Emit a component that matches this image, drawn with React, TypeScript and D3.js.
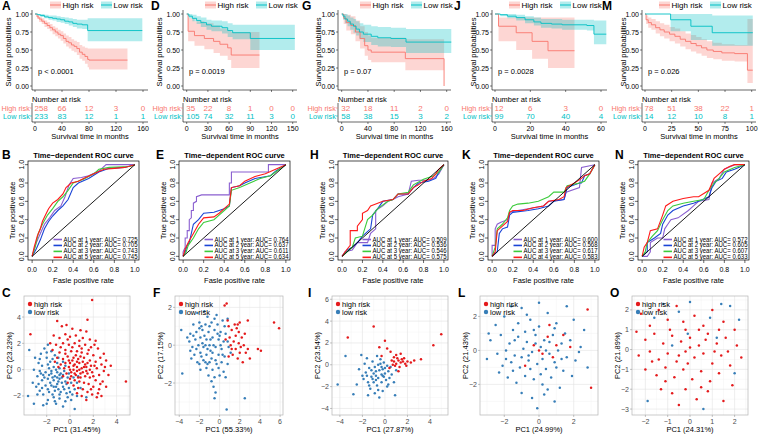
import React from 'react';
import * as d3 from 'd3';

const FONT = "'Liberation Sans', Arial, Helvetica, sans-serif";
const RED = '#F8766D';
const TEAL = '#00BFC4';
const ROC_COLORS = ['#8A5FD0', '#1A44D6', '#3CCB3C', '#FF1A1A'];
const PCA_RED = '#E41A1C';
const PCA_BLUE = '#377EB8';

// ---- Kaplan-Meier curves: [time, surv, lower, upper]
const aHigh = [[0,1,1,1],[3,0.96,0.93,0.99],[6,0.93,0.89,0.96],[10,0.9,0.86,0.94],[14,0.87,0.82,0.91],[18,0.84,0.79,0.89],[22,0.81,0.76,0.86],[26,0.78,0.72,0.83],[30,0.75,0.69,0.81],[34,0.72,0.66,0.78],[38,0.7,0.63,0.76],[42,0.66,0.59,0.73],[46,0.62,0.55,0.7],[50,0.6,0.52,0.68],[54,0.57,0.49,0.65],[58,0.55,0.47,0.63],[62,0.52,0.43,0.61],[66,0.47,0.38,0.57],[70,0.44,0.35,0.55],[74,0.41,0.31,0.53],[78,0.37,0.26,0.52],[80,0.36,0.23,0.52],[137,0.36,0.23,0.52]];
const aLow = [[0,1,1,1],[4,0.99,0.98,1],[8,0.98,0.96,1],[14,0.96,0.94,0.99],[20,0.95,0.92,0.98],[26,0.94,0.91,0.98],[32,0.93,0.89,0.97],[38,0.92,0.88,0.96],[44,0.9,0.86,0.95],[50,0.89,0.84,0.94],[56,0.87,0.82,0.93],[62,0.86,0.8,0.92],[70,0.85,0.79,0.92],[78,0.77,0.62,0.94],[159,0.77,0.62,0.94]];
const dHigh = [[0,1,1,1],[2,0.76,0.62,0.94],[11,0.7,0.56,0.9],[25,0.66,0.51,0.87],[38,0.62,0.46,0.84],[47,0.58,0.42,0.8],[58,0.53,0.36,0.77],[63,0.43,0.25,0.75],[103,0.43,0.25,0.75]];
const dLow = [[0,1,1,1],[3,0.97,0.94,1],[8,0.94,0.9,0.99],[14,0.91,0.86,0.97],[20,0.88,0.82,0.95],[28,0.85,0.78,0.92],[35,0.83,0.76,0.91],[50,0.81,0.73,0.9],[58,0.77,0.68,0.87],[65,0.74,0.65,0.85],[90,0.66,0.5,0.85],[153,0.66,0.5,0.85]];
const gHigh = [[0,1,1,1],[3,0.94,0.86,1],[7,0.88,0.77,0.99],[14,0.84,0.72,0.97],[21,0.75,0.62,0.91],[28,0.66,0.52,0.83],[35,0.56,0.42,0.75],[40,0.5,0.36,0.7],[45,0.47,0.33,0.67],[97,0.38,0.22,0.65],[156,0,0,0]];
const gLow = [[0,1,1,1],[2,0.97,0.92,1],[5,0.93,0.87,1],[9,0.9,0.83,0.98],[13,0.86,0.78,0.95],[18,0.83,0.74,0.93],[22,0.79,0.7,0.9],[27,0.75,0.65,0.87],[33,0.72,0.61,0.85],[45,0.69,0.57,0.83],[55,0.67,0.55,0.82],[75,0.66,0.54,0.81],[98,0.61,0.46,0.79],[167,0.61,0.46,0.79]];
const jHigh = [[0,1,1,1],[2,0.83,0.62,0.95],[12,0.74,0.5,0.95],[21,0.62,0.38,0.95],[30,0.49,0.25,0.95],[45,0.49,0.25,0.95]];
const jLow = [[0,1,1,1],[3,0.99,0.97,1],[7,0.97,0.94,1],[12,0.95,0.91,0.99],[17,0.92,0.87,0.97],[22,0.89,0.84,0.95],[26,0.87,0.81,0.93],[32,0.86,0.8,0.93],[38,0.85,0.78,0.92],[52,0.84,0.77,0.92],[56,0.72,0.58,0.91],[63,0.72,0.58,0.91]];
const mHigh = [[0,1,1,1],[1,0.92,0.86,0.98],[3,0.88,0.81,0.95],[6,0.85,0.78,0.93],[10,0.81,0.73,0.9],[14,0.78,0.69,0.87],[18,0.75,0.66,0.85],[23,0.72,0.62,0.82],[28,0.69,0.59,0.8],[33,0.65,0.55,0.76],[38,0.62,0.51,0.73],[43,0.59,0.48,0.71],[48,0.56,0.45,0.68],[53,0.53,0.42,0.65],[58,0.5,0.39,0.62],[64,0.48,0.37,0.6],[72,0.46,0.35,0.58],[84,0.45,0.34,0.57],[96,0.22,0.04,0.93],[101,0.22,0.04,0.93]];
const mLow = [[0,1,1,1],[24,0.92,0.76,1],[43,0.83,0.64,1],[63,0.74,0.56,0.98],[101,0.74,0.56,0.98]];

// ---- numbers at risk
const aTicks = [0, 40, 80, 120, 160];
const aRiskHigh = [258, 66, 12, 3, 0];
const aRiskLow = [233, 83, 12, 1, 1];
const dTicks = [0, 30, 60, 90, 120, 150];
const dRiskHigh = [35, 22, 8, 1, 0, 0];
const dRiskLow = [105, 74, 32, 11, 3, 0];
const gTicks = [0, 40, 80, 120, 160];
const gRiskHigh = [32, 18, 11, 2, 0];
const gRiskLow = [58, 38, 15, 3, 2];
const jTicks = [0, 20, 40, 60];
const jRiskHigh = [12, 6, 3, 0];
const jRiskLow = [99, 70, 40, 4];
const mTicks = [0, 25, 50, 75, 100];
const mRiskHigh = [78, 51, 38, 22, 1];
const mRiskLow = [14, 12, 10, 8, 1];

// ---- ROC curves [fpr, tpr]
const b1 = [[0,0],[0.03,0.12],[0.08,0.25],[0.12,0.35],[0.17,0.42],[0.22,0.5],[0.28,0.55],[0.32,0.65],[0.36,0.78],[0.4,0.85],[0.48,0.86],[0.55,0.88],[0.65,0.93],[0.72,1],[1,1]];
const b2 = [[0,0],[0.04,0.08],[0.08,0.18],[0.12,0.3],[0.16,0.38],[0.2,0.44],[0.25,0.5],[0.3,0.55],[0.35,0.62],[0.4,0.75],[0.45,0.8],[0.55,0.85],[0.65,0.92],[0.75,0.96],[0.9,0.97],[1,1]];
const b3 = [[0,0],[0.03,0.1],[0.06,0.25],[0.1,0.35],[0.15,0.45],[0.2,0.52],[0.25,0.6],[0.3,0.65],[0.35,0.72],[0.4,0.8],[0.5,0.84],[0.6,0.9],[0.65,0.95],[0.75,0.97],[0.95,0.98],[1,1]];
const b5 = [[0,0],[0.02,0.1],[0.05,0.22],[0.08,0.3],[0.1,0.38],[0.13,0.45],[0.16,0.52],[0.2,0.58],[0.25,0.62],[0.3,0.68],[0.33,0.75],[0.38,0.8],[0.45,0.82],[0.5,0.85],[0.6,0.9],[0.7,0.95],[0.8,0.96],[0.9,0.97],[1,1]];
const e1 = [[0,0],[0,0.05],[0.02,0.1],[0.02,0.2],[0.04,0.2],[0.04,0.28],[0.06,0.28],[0.06,0.4],[0.08,0.42],[0.08,0.5],[0.1,0.5],[0.1,0.58],[0.13,0.6],[0.13,0.65],[0.18,0.67],[0.45,0.67],[0.45,0.8],[0.47,0.8],[0.47,0.92],[0.83,0.92],[0.83,1],[1,1]];
const e2 = [[0,0],[0.02,0.05],[0.04,0.12],[0.06,0.15],[0.08,0.25],[0.1,0.35],[0.15,0.4],[0.2,0.47],[0.3,0.48],[0.35,0.5],[0.4,0.52],[0.45,0.55],[0.47,0.75],[0.55,0.77],[0.6,0.8],[0.7,0.85],[0.85,0.88],[0.9,0.93],[1,1]];
const e3 = [[0,0],[0.03,0.05],[0.05,0.12],[0.1,0.2],[0.15,0.3],[0.2,0.37],[0.3,0.4],[0.35,0.45],[0.4,0.5],[0.45,0.55],[0.47,0.72],[0.55,0.75],[0.65,0.8],[0.75,0.85],[0.85,0.88],[0.9,0.92],[1,1]];
const e5 = [[0,0],[0.02,0.08],[0.05,0.15],[0.1,0.25],[0.15,0.35],[0.2,0.42],[0.3,0.43],[0.35,0.47],[0.4,0.52],[0.45,0.57],[0.47,0.75],[0.55,0.77],[0.6,0.82],[0.7,0.87],[0.8,0.9],[0.9,0.95],[1,1]];
const h1 = [[0,0],[0.03,0.05],[0.1,0.07],[0.15,0.15],[0.25,0.15],[0.28,0.25],[0.33,0.3],[0.33,0.5],[0.4,0.55],[0.45,0.6],[0.5,0.62],[0.55,0.65],[0.65,0.68],[0.68,0.82],[0.75,0.83],[0.85,0.83],[0.9,0.85],[0.95,0.9],[1,1]];
const h2 = [[0,0],[0.05,0.07],[0.1,0.1],[0.15,0.15],[0.2,0.22],[0.28,0.3],[0.3,0.45],[0.35,0.52],[0.4,0.6],[0.5,0.62],[0.55,0.68],[0.65,0.68],[0.7,0.75],[0.75,0.8],[0.85,0.82],[0.92,0.85],[0.95,0.92],[1,1]];
const h3 = [[0,0],[0.05,0.05],[0.1,0.1],[0.13,0.2],[0.2,0.22],[0.25,0.4],[0.3,0.45],[0.35,0.52],[0.45,0.6],[0.5,0.62],[0.55,0.68],[0.65,0.7],[0.7,0.78],[0.8,0.84],[0.9,0.88],[0.95,0.92],[1,1]];
const h5 = [[0,0],[0.03,0.05],[0.08,0.12],[0.08,0.28],[0.15,0.28],[0.15,0.33],[0.2,0.4],[0.2,0.47],[0.25,0.5],[0.28,0.55],[0.35,0.58],[0.4,0.6],[0.5,0.62],[0.55,0.68],[0.65,0.68],[0.7,0.75],[0.75,0.78],[0.8,0.82],[0.88,0.85],[0.92,0.9],[0.95,0.95],[1,1]];
const k1 = [[0,0],[0,0.12],[0.03,0.12],[0.03,0.3],[0.05,0.35],[0.08,0.37],[0.15,0.4],[0.17,0.48],[0.25,0.5],[0.35,0.52],[0.5,0.55],[0.55,0.6],[0.7,0.62],[0.72,0.7],[0.85,0.75],[0.87,0.97],[1,1]];
const k2 = [[0,0],[0.05,0.05],[0.07,0.25],[0.1,0.3],[0.15,0.32],[0.17,0.45],[0.2,0.48],[0.35,0.5],[0.45,0.52],[0.55,0.55],[0.6,0.6],[0.7,0.62],[0.73,0.75],[0.85,0.8],[0.87,0.8],[0.9,0.88],[0.95,0.9],[1,1]];
const k3 = [[0,0],[0.03,0.1],[0.05,0.3],[0.1,0.35],[0.15,0.42],[0.17,0.5],[0.2,0.55],[0.25,0.57],[0.35,0.58],[0.45,0.6],[0.55,0.65],[0.6,0.7],[0.7,0.7],[0.73,0.77],[0.85,0.8],[0.9,0.82],[0.95,0.9],[1,1]];
const k4 = [[0,0],[0.03,0.05],[0.05,0.28],[0.1,0.33],[0.15,0.38],[0.17,0.48],[0.2,0.5],[0.3,0.5],[0.4,0.53],[0.5,0.55],[0.55,0.6],[0.65,0.62],[0.7,0.65],[0.72,0.75],[0.8,0.8],[0.87,0.85],[0.9,0.88],[0.95,0.9],[1,1]];
const n1 = [[0,0],[0.05,0],[0.08,0.05],[0.08,0.15],[0.15,0.2],[0.2,0.2],[0.22,0.3],[0.25,0.35],[0.28,0.4],[0.35,0.42],[0.45,0.5],[0.5,0.55],[0.55,0.6],[0.65,0.62],[0.68,0.8],[0.75,0.85],[0.8,0.95],[0.9,1],[1,1]];
const n2 = [[0,0],[0.05,0.05],[0.05,0.15],[0.12,0.2],[0.18,0.25],[0.2,0.35],[0.25,0.45],[0.3,0.5],[0.4,0.55],[0.5,0.58],[0.55,0.6],[0.65,0.65],[0.68,0.75],[0.72,0.82],[0.78,0.85],[0.82,0.92],[0.9,0.95],[1,1]];
const n3 = [[0,0],[0.03,0.05],[0.05,0.15],[0.1,0.22],[0.15,0.28],[0.2,0.4],[0.25,0.5],[0.3,0.55],[0.4,0.58],[0.5,0.6],[0.6,0.62],[0.65,0.72],[0.7,0.8],[0.75,0.85],[0.8,0.92],[0.9,0.97],[1,1]];
const n5 = [[0,0],[0.02,0.1],[0.05,0.15],[0.08,0.28],[0.15,0.3],[0.2,0.45],[0.23,0.55],[0.3,0.6],[0.4,0.63],[0.5,0.65],[0.55,0.65],[0.65,0.72],[0.7,0.85],[0.75,0.9],[0.8,0.95],[0.85,0.98],[0.9,1],[1,1]];

const bAuc = ['AUC at 1 year: AUC= 0.725', 'AUC at 2 year: AUC= 0.705', 'AUC at 3 year: AUC= 0.743', 'AUC at 5 year: AUC= 0.745'];
const eAuc = ['AUC at 1 year: AUC= 0.764', 'AUC at 2 year: AUC= 0.637', 'AUC at 3 year: AUC= 0.611', 'AUC at 5 year: AUC= 0.634'];
const hAuc = ['AUC at 1 year: AUC= 0.509', 'AUC at 2 year: AUC= 0.536', 'AUC at 3 year: AUC= 0.546', 'AUC at 5 year: AUC= 0.575'];
const kAuc = ['AUC at 1 year: AUC= 0.600', 'AUC at 2 year: AUC= 0.568', 'AUC at 3 year: AUC= 0.617', 'AUC at 4 year: AUC= 0.583'];
const nAuc = ['AUC at 1 year: AUC= 0.572', 'AUC at 2 year: AUC= 0.605', 'AUC at 3 year: AUC= 0.607', 'AUC at 5 year: AUC= 0.633'];

// ---- PCA scores (flat x,y pairs)
const cHigh = [-1.1,3.7,1.9,5.3,1.5,3.8,-3.4,2.7,4.8,-0.9,-0.7,3.3,-0.3,3.4,0.2,3.1,0.9,3.0,1.4,2.9,
-1.4,2.6,-0.9,2.4,-0.4,2.7,0.0,2.5,0.5,2.6,1.1,2.4,1.7,2.3,2.2,2.2,-1.7,2.0,-1.2,1.9,
-0.6,2.0,-0.1,1.9,0.4,2.0,0.8,1.8,1.3,1.9,1.8,1.7,2.4,1.6,2.9,1.2,-1.5,1.5,-0.9,1.3,
-0.4,1.5,0.1,1.4,0.6,1.4,1.0,1.3,1.5,1.2,2.0,1.1,2.6,0.9,3.1,0.7,3.5,0.3,-1.1,0.9,
-0.6,0.8,-0.2,1.0,0.3,0.9,0.7,0.8,1.2,0.9,1.7,0.7,2.2,0.6,2.7,0.4,-0.8,0.4,-0.4,0.5,
0.0,0.5,0.4,0.4,0.8,0.5,1.3,0.4,1.8,0.3,2.3,0.1,2.9,-0.1,3.3,-0.4,-0.5,0.1,-0.1,0.2,
0.3,0.0,0.6,0.2,1.0,0.1,1.4,-0.1,1.9,-0.2,2.5,-0.4,-0.3,-0.3,0.1,-0.2,0.5,-0.4,0.9,-0.3,
1.3,-0.5,1.7,-0.6,2.2,-0.8,2.8,-0.9,3.1,-1.3,0.0,-0.7,0.4,-0.8,0.8,-0.9,1.2,-1.0,1.6,-1.1,
2.0,-1.3,2.5,-1.5,0.3,-1.2,0.7,-1.4,1.1,-1.5,1.5,-1.7,1.9,-1.9,2.3,-2.1,2.7,-2.0,1.0,-2.0,
1.4,-2.3,0.6,-1.8,-0.2,-1.0,-0.6,-0.5,-1.0,0.2,-1.3,0.6,0.2,0.7,0.6,-0.1,1.1,0.6,1.5,0.5,
0.9,1.0,0.5,1.1,0.1,-0.5,0.7,-0.6,1.4,0.2,1.1,-0.2,0.3,0.3,-0.1,0.7,1.6,1.5,2.1,1.9,
0.8,2.2,-0.2,2.3,2.6,-1.1,3.0,0.2,2.0,-0.5,1.0,1.6,0.2,1.7,-0.8,1.7,1.8,-1.5,2.4,-1.8,
0.6,0.6,1.2,0.2,0.9,-0.6,0.4,-0.3,1.7,0.0,2.1,0.3,-0.4,1.2,0.0,0.0,0.8,0.0,1.5,-0.3];
const cLow = [-3.6,-2.0,-2.3,-2.7,0.4,-3.0,-3.5,1.5,1.4,-2.1,-3.0,0.9,-2.7,0.5,-3.1,0.0,-2.8,-0.5,-3.2,-1.0,
-2.5,1.2,-2.2,1.6,-1.9,1.9,-1.6,1.4,-2.0,0.9,-1.5,0.8,-1.1,0.5,-2.4,0.3,-1.9,0.4,-1.4,0.2,
-0.9,0.1,-2.6,-0.1,-2.1,-0.2,-1.6,-0.3,-1.1,-0.2,-0.6,-0.4,-0.2,-0.6,-2.9,-1.3,-2.4,-0.8,-1.9,-0.7,
-1.4,-0.8,-0.9,-0.7,-0.4,-0.9,0.1,-1.0,-2.6,-1.6,-2.1,-1.2,-1.6,-1.2,-1.1,-1.1,-0.6,-1.3,-0.1,-1.4,
0.4,-1.5,-2.3,-1.9,-1.8,-1.7,-1.3,-1.6,-0.8,-1.7,-0.3,-1.8,0.2,-1.9,-1.9,-2.3,-1.4,-2.1,-0.9,-2.2,
-0.4,-2.4,0.1,-2.3,-1.2,-2.6,-0.6,-2.8,-1.6,-0.1,-1.3,-0.5,-0.8,-0.3,-0.5,-0.1,-1.8,0.1,-2.3,-0.4,
-1.0,-0.9,-0.7,-0.6,-1.5,-0.6,-1.7,-1.0,-1.2,-1.3,-0.3,-1.1,-0.1,-0.3,0.3,-0.6,0.6,-1.0,0.7,-0.5,
-2.8,-1.9,-3.1,-2.6,-2.0,-2.6,-1.0,0.9,-0.6,0.6,-2.6,0.8,-1.3,1.1,-0.4,0.3,-1.9,-1.5,-2.7,-1.1,
-0.2,-2.1,-1.5,-1.9,-1.0,-1.5,-0.5,-1.5,-2.2,-0.6,-1.7,0.6,-1.2,0.0,-0.9,-0.4,-2.0,1.3,-2.4,-1.4,
-0.7,-1.0,-1.4,-1.3,0.0,-1.7,-0.9,-1.9,-1.1,-0.6,-1.8,-0.4,-2.5,-0.3,-1.3,-2.4,0.6,-2.0,0.9,-1.4];
const fHigh = [0.7,2.2,0.5,2.1,5.4,1.2,5.9,0.9,3.8,-0.2,4.1,-0.3,3.0,-0.7,2.8,1.3,0.9,1.0,1.5,1.1,
1.8,1.1,1.2,0.8,1.9,0.7,1.6,0.5,2.2,0.4,1.0,0.4,1.4,0.2,1.9,0.1,2.4,0.0,1.1,0.0,
1.6,-0.2,2.0,-0.4,2.6,-0.4,1.3,-0.5,0.9,-0.6,1.8,-0.7,2.3,-0.9,2.0,1.2,0.6,0.3,2.5,0.6,
1.7,0.9,1.2,-0.2,2.8,-0.2,0.8,1.3,2.1,-0.1];
const fLow = [-3.8,0.8,-3.7,-1.5,0.7,-3.4,2.5,-2.8,-0.4,-2.5,-0.5,-2.8,-2.2,1.7,-1.5,1.8,-1.2,1.5,-0.3,1.6,
-2.6,1.1,-2.0,1.2,-1.4,1.1,-0.8,1.2,-0.2,1.1,0.3,1.3,0.8,1.4,-2.9,0.6,-2.3,0.7,-1.7,0.8,
-1.1,0.7,-0.5,0.8,0.1,0.7,0.6,0.6,-3.0,0.2,-2.4,0.3,-1.9,0.4,-1.3,0.3,-0.7,0.4,-0.1,0.3,
0.4,0.2,-2.7,-0.1,-2.1,0.0,-1.6,-0.1,-1.0,0.0,-0.4,-0.1,0.2,-0.2,0.9,-0.1,-2.5,-0.5,-1.9,-0.4,
-1.3,-0.5,-0.7,-0.4,-0.1,-0.5,0.5,-0.6,-2.2,-0.9,-1.6,-0.8,-1.0,-0.9,-0.4,-0.8,0.2,-0.9,0.8,-1.0,
-1.9,-1.3,-1.3,-1.2,-0.7,-1.3,-0.1,-1.2,0.4,-1.4,-1.1,-1.6,-0.5,-1.7,0.0,-1.6,-2.0,0.9,-0.9,0.3,
-1.5,0.5,-0.6,0.0,-2.3,-0.2,-1.2,-0.2,0.0,0.5,-1.8,1.0,-0.3,-1.0,-1.4,-0.9,-2.8,-0.7,-0.8,-0.7,
0.6,-1.7,-0.6,-2.2,0.3,-0.5,-1.7,0.1,-1.0,1.0,-2.6,0.5,0.8,0.2,-0.2,0.6,-1.2,-1.0,-0.5,1.4,
-2.9,-0.3,-1.8,-0.6,0.1,0.0,-0.9,-0.3,-1.4,0.0,0.5,1.0,-0.8,-1.9,-2.0,-1.0,1.1,-0.4,-3.2,0.4];
const iHigh = [0.8,0.3,1.0,0.1,1.2,0.4,1.4,0.2,0.9,-0.1,1.6,0.3,1.8,0.1,1.1,0.6,0.7,0.0,1.3,-0.2,
2.0,0.3,2.3,0.2,1.5,0.5,0.6,0.4,1.9,-0.1,1.0,0.9,0.5,1.2,0.2,1.5,-0.3,0.8,0.4,-0.3,
1.7,0.6,2.6,0.4,-3.3,2.5,5.0,2.8,4.3,1.8,-1.0,3.5,0.0,2.2,1.2,-0.6,0.8,0.7,1.4,1.0,-0.5,1.6,3.2,0.5];
const iLow = [-0.5,-0.5,-1.0,-0.8,-0.2,-1.0,0.3,-0.6,-0.8,-1.4,-1.4,-0.3,-0.6,0.0,0.0,-0.3,-1.2,-1.1,-0.3,-1.6,
0.4,-1.2,-1.7,-0.7,-0.9,-0.2,-0.1,0.2,-0.7,-1.9,0.2,-2.0,-1.5,-1.6,-2.0,-1.0,0.6,-0.9,-1.1,0.3,
-0.4,0.5,0.1,-1.4,-0.6,-1.2,-1.3,-2.2,-0.2,-2.4,0.5,-0.2,-1.8,0.1,-2.3,-0.4,-0.9,-2.6,0.8,-1.6,
-0.5,-3.0,-1.6,0.6,-2.5,-1.8,1.0,-0.5,-0.3,-0.9,-0.8,-0.6,-1.2,-0.5,0.0,-0.8,-0.6,-2.3,0.3,-1.8,
-1.0,-1.6,-1.9,-1.3,-0.4,0.1,-1.4,-1.9,-2.8,-2.7,-4.2,-1.8,-3.5,0.8,0.9,-2.8,-2.1,0.9,-0.7,0.8,
-1.5,-2.8,0.2,-0.1,-0.2,-0.4,-1.1,-1.3,-0.8,-1.0,-0.1,-1.1,-0.3,-0.2,-1.6,-1.0];
const lHigh = [0.5,0.8,1.0,0.3,0.2,-0.2,0.8,-0.4,1.4,0.9,-0.3,0.3,0.6,1.5,1.8,0.2,-0.8,-0.9,2.8,2.4,3.0,-2.2,0.0,0.0];
const lLow = [-2.5,1.5,-2.0,2.0,-1.5,1.2,-1.0,2.5,-0.5,1.8,0.0,1.4,0.5,2.2,1.0,1.6,1.5,1.0,2.0,1.8,
-2.8,0.6,-2.2,0.9,-1.7,0.4,-1.2,0.8,-0.7,0.5,-0.2,0.9,0.3,0.6,0.8,0.9,1.3,0.4,1.8,0.6,
2.4,0.2,-2.4,-0.2,-1.9,0.0,-1.4,-0.3,-0.9,0.1,-0.4,-0.1,0.1,0.2,0.6,-0.2,1.1,0.0,1.6,-0.4,
2.1,-0.6,-2.1,-0.9,-1.6,-0.7,-1.1,-1.0,-0.6,-0.6,-0.1,-0.8,0.4,-1.1,0.9,-0.7,1.4,-1.2,1.9,-1.5,
-1.8,-1.6,-1.3,-1.9,-0.8,-1.5,-0.3,-1.7,0.2,-2.0,0.7,-1.6,1.2,-2.2,-1.0,-2.5,-0.4,-2.8,0.3,-2.6,
0.9,-3.0,-0.1,-3.4,-3.0,-0.5,2.8,-1.0,2.6,1.2,-2.9,1.0,0.0,2.8,-1.6,2.6,1.6,2.6,-0.6,-0.3,
-0.2,0.4,0.4,0.0,-1.0,-0.4,0.6,0.5,-1.4,0.6,1.0,-1.0,-0.5,-1.1,0.2,-0.5,-0.8,1.1,0.9,1.3,
-1.9,-0.5,1.3,-0.5,-0.3,1.2,-1.2,1.6,0.5,-2.3,-2.3,-1.3,2.3,-0.1,-0.7,2.1,0.1,-1.4,-1.5,-1.2];
const oHigh = [-2.2,1.8,-1.8,1.2,-1.4,2.0,-1.0,1.5,-0.6,2.2,-0.2,1.0,0.2,1.7,0.6,1.2,1.0,2.0,1.5,1.4,
2.0,1.0,-2.0,0.5,-1.6,0.8,-1.2,0.3,-0.8,0.7,-0.4,0.4,0.0,0.6,0.4,0.2,0.8,0.8,1.2,0.3,
1.6,0.6,2.1,0.2,-2.3,-0.3,-1.8,-0.1,-1.4,-0.5,-1.0,-0.2,-0.6,-0.6,-0.2,-0.1,0.2,-0.4,0.6,-0.2,
1.0,-0.7,1.4,-0.3,1.8,-0.8,-2.0,-1.0,-1.5,-1.3,-1.1,-0.9,-0.7,-1.4,-0.3,-1.0,0.1,-1.5,0.5,-1.1,
0.9,-1.6,1.3,-1.2,1.9,-1.8,-1.3,-2.0,-0.8,-2.2,-0.2,-2.0,0.3,-2.5,0.8,-2.1,1.5,-2.6,-0.5,-2.8,
0.0,0.1,-0.9,1.0,0.7,0.5,-0.5,-0.3,1.1,-0.1,-1.7,-0.6,0.4,1.0,-0.1,-0.7,2.3,-0.4,-2.4,0.9,
-1.1,-1.6,1.7,-0.1,0.5,-1.9,-0.3,1.4,1.3,1.0];
const oLow = [-1.2,2.3,0.0,2.4,1.8,2.2,-0.5,1.9,0.9,1.6,-1.6,1.6,2.2,1.5,1.4,2.3,-0.1,0.8,2.0,-1.2,-1.9,-2.6,0.6,-3.0,1.2,0.6,-0.8,0.2];

const pairs = (a: number[]) => d3.range(0, a.length, 2).map(i => [a[i], a[i + 1]]);

const kmPanels = [
  { letter: 'A', letterX: 2, axisX: 32, x0: 35, x1: 143, right: 148, tMax: 160, ticks: aTicks, high: aHigh, low: aLow, riskHigh: aRiskHigh, riskLow: aRiskLow, p: 'p < 0.0001', legendX: 50, yTitleX: 8 },
  { letter: 'D', letterX: 151, axisX: 183, x0: 186.7, x1: 292.7, right: 297, tMax: 150, ticks: dTicks, high: dHigh, low: dLow, riskHigh: dRiskHigh, riskLow: dRiskLow, p: 'p = 0.0019', legendX: 205, yTitleX: 159 },
  { letter: 'G', letterX: 302, axisX: 338, x0: 341.7, x1: 446.7, right: 451, tMax: 160, ticks: gTicks, high: gHigh, low: gLow, riskHigh: gRiskHigh, riskLow: gRiskLow, p: 'p = 0.07', legendX: 360, yTitleX: 318 },
  { letter: 'J', letterX: 454, axisX: 492, x0: 495, x1: 601, right: 607, tMax: 60, ticks: jTicks, high: jHigh, low: jLow, riskHigh: jRiskHigh, riskLow: jRiskLow, p: 'p = 0.0028', legendX: 509, yTitleX: 473 },
  { letter: 'M', letterX: 602, axisX: 642, x0: 645, x1: 751.7, right: 756, tMax: 100, ticks: mTicks, high: mHigh, low: mLow, riskHigh: mRiskHigh, riskLow: mRiskLow, p: 'p = 0.026', legendX: 659, yTitleX: 623 },
];

const rocPanels = [
  { letter: 'B', letterX: 2, left: 28, right: 139, curves: [b1, b2, b3, b5], labels: bAuc },
  { letter: 'E', letterX: 156, left: 179, right: 290, curves: [e1, e2, e3, e5], labels: eAuc },
  { letter: 'H', letterX: 310, left: 338, right: 448, curves: [h1, h2, h3, h5], labels: hAuc },
  { letter: 'K', letterX: 462, left: 488, right: 599, curves: [k1, k2, k3, k4], labels: kAuc },
  { letter: 'N', letterX: 615, left: 638, right: 749, curves: [n1, n2, n3, n5], labels: nAuc },
];

const pcaPanels = [
  { letter: 'C', letterX: 2, left: 24, right: 130, xDom: [-3.95, 5.15], yDom: [-3.45, 5.6], xTicks: [-2, 0, 2, 4], yTicks: [-2, 0, 2, 4], high: cHigh, low: cLow, xLab: 'PC1 (31.45%)', yLab: 'PC2 (23.23%)' },
  { letter: 'F', letterX: 153, left: 175, right: 283, xDom: [-4.42, 6.29], yDom: [-3.69, 2.6], xTicks: [-4, -2, 0, 2, 4, 6], yTicks: [-2, 0, 2], high: fHigh, low: fLow, xLab: 'PC1 (55.33%)', yLab: 'PC2 (17.15%)' },
  { letter: 'I', letterX: 308, left: 332, right: 448, xDom: [-4.7, 5.6], yDom: [-4.6, 6.3], xTicks: [-4, -2, 0, 2, 4], yTicks: [-4, -2, 0, 2, 4, 6], high: iHigh, low: iLow, xLab: 'PC1 (27.87%)', yLab: 'PC2 (23.54%)' },
  { letter: 'L', letterX: 458, left: 480, right: 598, xDom: [-3.4, 3.4], yDom: [-3.8, 3.2], xTicks: [-2, 0, 2], yTicks: [-2, 0, 2], high: lHigh, low: lLow, xLab: 'PC1 (24.99%)', yLab: 'PC2 (21.43%)' },
  { letter: 'O', letterX: 610, left: 632, right: 748, xDom: [-2.6, 2.6], yDom: [-3.3, 2.7], xTicks: [-2, -1, 0, 1, 2], yTicks: [-3, -2, -1, 0, 1, 2], high: oHigh, low: oLow, xLab: 'PC1 (24.31%)', yLab: 'PC2 (21.89%)' },
];

function KMPanel({ c }: { c: any }) {
  const x = d3.scaleLinear().domain([0, c.tMax]).range([c.x0, c.x1]);
  const y = d3.scaleLinear().domain([0, 1]).range([86, 14]);
  const line = d3.line<number[]>().x(d => x(d[0])).y(d => y(d[1])).curve(d3.curveStepAfter);
  const band = d3.area<number[]>().x(d => x(d[0])).y0(d => y(d[2])).y1(d => y(d[3])).curve(d3.curveStepAfter);
  const mid = (c.axisX + c.right) / 2;
  const keys = [['High risk', RED, c.legendX], ['Low risk', TEAL, c.legendX + 51]];
  return (
    <g fontFamily={FONT}>
      <text x={c.letterX} y={10} fontSize={12} fontWeight="bold">{c.letter}</text>
      {keys.map(([lab, col, lx]: any) => (
        <g key={lab}>
          <rect x={lx} y={1.5} width={11} height={7} fill={col} fillOpacity={0.3} />
          <line x1={lx} x2={lx + 11} y1={5} y2={5} stroke={col} strokeWidth={1} />
          <text x={lx + 12.5} y={7.8} fontSize={8}>{lab}</text>
        </g>
      ))}
      <path d={band(c.high) || ''} fill={RED} fillOpacity={0.3} />
      <path d={band(c.low) || ''} fill={TEAL} fillOpacity={0.3} />
      <path d={line(c.high) || ''} fill="none" stroke={RED} strokeWidth={0.9} />
      <path d={line(c.low) || ''} fill="none" stroke={TEAL} strokeWidth={0.9} />
      <line x1={c.axisX} x2={c.axisX} y1={10} y2={90} stroke="#000" strokeWidth={0.6} />
      <line x1={c.axisX} x2={c.right} y1={90} y2={90} stroke="#000" strokeWidth={0.6} />
      {c.ticks.map((t: number) => (
        <line key={t} x1={x(t)} x2={x(t)} y1={90} y2={92} stroke="#000" strokeWidth={0.5} />
      ))}
      {[0, 0.25, 0.5, 0.75, 1].map(v => (
        <g key={v}>
          <line x1={c.axisX - 2} x2={c.axisX} y1={y(v)} y2={y(v)} stroke="#000" strokeWidth={0.5} />
          <text x={c.axisX - 3} y={y(v) + 2.5} fontSize={7} textAnchor="end">{d3.format('.2f')(v)}</text>
        </g>
      ))}
      <text transform={`translate(${c.yTitleX + 2.5},52) rotate(-90)`} fontSize={7.5} textAnchor="middle">Survival probabilities</text>
      <text x={c.axisX + 6} y={74} fontSize={7.5}>{c.p}</text>
      <text x={c.axisX} y={101.5} fontSize={7.5}>Number at risk</text>
      <line x1={c.axisX} x2={c.axisX} y1={103} y2={122} stroke="#000" strokeWidth={0.6} />
      <line x1={c.axisX} x2={c.right} y1={122} y2={122} stroke="#000" strokeWidth={0.6} />
      {[[108, 'High risk', RED, c.riskHigh], [116, 'Low risk', TEAL, c.riskLow]].map(([ry, lab, col, vals]: any) => (
        <g key={lab}>
          <line x1={c.axisX - 2} x2={c.axisX} y1={ry} y2={ry} stroke={col} strokeWidth={0.6} />
          <text x={c.axisX - 2.2} y={ry + 2.7} fontSize={7.3} fill={col} textAnchor="end">{lab}</text>
          {vals.map((v: number, i: number) => (
            <text key={i} x={i === 0 ? x(c.ticks[i]) - 0.5 : x(c.ticks[i])} y={ry + 2.8} fontSize={8} fill={col}
              textAnchor={i === 0 ? 'start' : 'middle'}>{v}</text>
          ))}
        </g>
      ))}
      {c.ticks.map((t: number) => (
        <g key={t}>
          <line x1={x(t)} x2={x(t)} y1={122} y2={124} stroke="#000" strokeWidth={0.5} />
          <text x={x(t)} y={130.5} fontSize={7} textAnchor="middle">{t}</text>
        </g>
      ))}
      <text x={mid} y={139} fontSize={7.5} textAnchor="middle">Survival time in months</text>
    </g>
  );
}

function ROCPanel({ c }: { c: any }) {
  const top = 161, bottom = 260;
  const x = d3.scaleLinear().domain([-0.04, 1.04]).range([c.left, c.right]);
  const y = d3.scaleLinear().domain([-0.04, 1.04]).range([bottom, top]);
  const line = d3.line<number[]>().x(d => x(d[0])).y(d => y(d[1]));
  const ticks = [0, 0.2, 0.4, 0.6, 0.8, 1];
  const textStart = c.right - 75.5;
  return (
    <g fontFamily={FONT}>
      <text x={c.letterX} y={159} fontSize={12} fontWeight="bold">{c.letter}</text>
      <text x={(c.left + c.right) / 2} y={157.5} fontSize={7.5} fontWeight="bold" textAnchor="middle">Time−dependent ROC curve</text>
      {c.curves.map((pts: number[][], i: number) => (
        <path key={i} d={line(pts) || ''} fill="none" stroke={ROC_COLORS[i]} strokeWidth={1.1} />
      ))}
      <line x1={x(0)} y1={y(0)} x2={x(1)} y2={y(1)} stroke="#000" strokeWidth={0.9} />
      <rect x={c.left} y={top} width={c.right - c.left} height={bottom - top} fill="none" stroke="#000" strokeWidth={0.7} />
      {ticks.map(t => (
        <g key={t}>
          <line x1={x(t)} x2={x(t)} y1={bottom} y2={bottom + 3} stroke="#000" strokeWidth={0.6} />
          <text x={x(t)} y={bottom + 11.5} fontSize={7} textAnchor="middle">{t.toFixed(1)}</text>
          <line x1={c.left - 3} x2={c.left} y1={y(t)} y2={y(t)} stroke="#000" strokeWidth={0.6} />
          <text transform={`translate(${c.left - 4.5},${y(t)}) rotate(-90)`} fontSize={7} textAnchor="middle">{t.toFixed(1)}</text>
        </g>
      ))}
      <text x={(c.left + c.right) / 2} y={283} fontSize={7.5} textAnchor="middle">Fasle positive rate</text>
      <text transform={`translate(${c.left - 13.5},${(top + bottom) / 2}) rotate(-90)`} fontSize={7.5} textAnchor="middle">True positive rate</text>
      {c.labels.map((lab: string, i: number) => {
        const ly = 239.5 + i * 5.95;
        return (
          <g key={i}>
            <line x1={textStart - 10} x2={textStart - 1.5} y1={ly} y2={ly} stroke={ROC_COLORS[i]} strokeWidth={1.6} />
            <text x={textStart} y={ly + 2} fontSize={6.3} textLength={74} lengthAdjust="spacingAndGlyphs">{lab}</text>
          </g>
        );
      })}
    </g>
  );
}

function PCAPanel({ c }: { c: any }) {
  const top = 296, bottom = 415;
  const x = d3.scaleLinear().domain(c.xDom).range([c.left, c.right]);
  const y = d3.scaleLinear().domain(c.yDom).range([bottom, top]);
  const step = c.xTicks[1] - c.xTicks[0];
  const ystep = c.yTicks[1] - c.yTicks[0];
  const xMinor = [c.xTicks[0] - step / 2, ...c.xTicks.map((t: number) => t + step / 2)].filter((t: number) => t > c.xDom[0] && t < c.xDom[1]);
  const yMinor = [c.yTicks[0] - ystep / 2, ...c.yTicks.map((t: number) => t + ystep / 2)].filter((t: number) => t > c.yDom[0] && t < c.yDom[1]);
  return (
    <g fontFamily={FONT}>
      <text x={c.letterX} y={297} fontSize={12} fontWeight="bold">{c.letter}</text>
      <rect x={c.left} y={top} width={c.right - c.left} height={bottom - top} fill="#fff" />
      {xMinor.map((t: number) => <line key={'xm' + t} x1={x(t)} x2={x(t)} y1={top} y2={bottom} stroke="#F0F0F0" strokeWidth={0.4} />)}
      {yMinor.map((t: number) => <line key={'ym' + t} x1={c.left} x2={c.right} y1={y(t)} y2={y(t)} stroke="#F0F0F0" strokeWidth={0.4} />)}
      {c.xTicks.map((t: number) => <line key={'x' + t} x1={x(t)} x2={x(t)} y1={top} y2={bottom} stroke="#E2E2E2" strokeWidth={0.6} />)}
      {c.yTicks.map((t: number) => <line key={'y' + t} x1={c.left} x2={c.right} y1={y(t)} y2={y(t)} stroke="#E2E2E2" strokeWidth={0.6} />)}
      {pairs(c.low).map((p, i) => <circle key={'l' + i} cx={x(p[0])} cy={y(p[1])} r={1.25} fill={PCA_BLUE} />)}
      {pairs(c.high).map((p, i) => <circle key={'h' + i} cx={x(p[0])} cy={y(p[1])} r={1.25} fill={PCA_RED} />)}
      <rect x={c.left} y={top} width={c.right - c.left} height={bottom - top} fill="none" stroke="#B5B5B5" strokeWidth={0.7} />
      {c.xTicks.map((t: number) => (
        <g key={t}>
          <line x1={x(t)} x2={x(t)} y1={bottom} y2={bottom + 2} stroke="#888" strokeWidth={0.5} />
          <text x={x(t)} y={423.5} fontSize={7} fill="#4D4D4D" textAnchor="middle">{t < 0 ? '−' + Math.abs(t) : t}</text>
        </g>
      ))}
      {c.yTicks.map((t: number) => (
        <g key={t}>
          <line x1={c.left - 2} x2={c.left} y1={y(t)} y2={y(t)} stroke="#888" strokeWidth={0.5} />
          <text x={c.left - 3} y={y(t) + 2.5} fontSize={7} fill="#4D4D4D" textAnchor="end">{t < 0 ? '−' + Math.abs(t) : t}</text>
        </g>
      ))}
      <text x={(c.left + c.right) / 2} y={431.5} fontSize={7.5} textAnchor="middle">{c.xLab}</text>
      <text transform={`translate(${c.left - 12},${(top + bottom) / 2}) rotate(-90)`} fontSize={7.5} textAnchor="middle">{c.yLab}</text>
      <circle cx={c.left + 6} cy={304} r={2.2} fill={PCA_RED} />
      <text x={c.left + 10} y={306.5} fontSize={7.5}>high risk</text>
      <circle cx={c.left + 6} cy={312} r={2.2} fill={PCA_BLUE} />
      <text x={c.left + 10} y={314.5} fontSize={7.5}>low risk</text>
    </g>
  );
}

export default function App() {
  return (
    <svg width={758} height={435} style={{ position: 'absolute', left: 0, top: 0, background: '#fff' }}>
      <rect width={758} height={435} fill="#fff" />
      {kmPanels.map(c => <KMPanel key={c.letter} c={c} />)}
      {rocPanels.map(c => <ROCPanel key={c.letter} c={c} />)}
      {pcaPanels.map(c => <PCAPanel key={c.letter} c={c} />)}
    </svg>
  );
}
